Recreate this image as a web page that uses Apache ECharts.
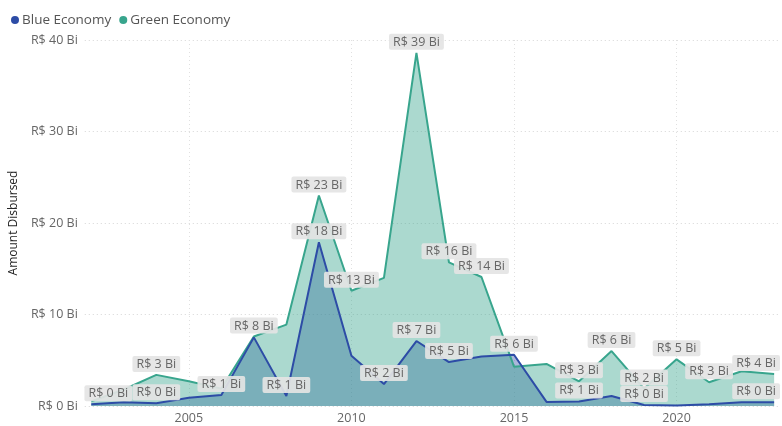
<!DOCTYPE html>
<html>
<head>
<meta charset="utf-8">
<title>Amount Disbursed</title>
<script src="https://cdn.jsdelivr.net/npm/echarts@6/dist/echarts.min.js"></script>
<style>
  html, body { margin: 0; padding: 0; background: #ffffff; }
  #chart { width: 782px; height: 426px; }
</style>
</head>
<body>
<div id="chart"></div>
<script>
// Yearly disbursements, in R$ billions
const years = [2002, 2003, 2004, 2005, 2006, 2007, 2008, 2009, 2010, 2011, 2012,
               2013, 2014, 2015, 2016, 2017, 2018, 2019, 2020, 2021, 2022, 2023];
const blueEconomy = [0.2, 0.4, 0.3, 0.9, 1.2, 7.5, 1.1, 17.9, 5.5, 2.4, 7.1,
                     4.8, 5.4, 5.6, 0.45, 0.5, 1.1, 0.1, 0.05, 0.2, 0.4, 0.4];
const greenEconomy = [0.5, 1.8, 3.4, 2.7, 1.9, 7.6, 8.9, 23.0, 12.6, 14.0, 38.6,
                      15.7, 14.1, 4.3, 4.6, 2.7, 6.0, 1.9, 5.1, 2.6, 3.8, 3.5];

// Years whose value label is shown for each series
const blueLabelYears = [2002, 2004, 2006, 2008, 2009, 2011, 2012, 2013, 2015, 2017, 2019, 2023];
const greenLabelYears = [2004, 2007, 2009, 2010, 2012, 2013, 2014, 2017, 2018, 2019, 2020, 2021, 2023];

const yTicks = [0, 10, 20, 30, 40];
const xTickYears = [2005, 2010, 2015, 2020];

const BLUE = '#2d4ca6';
const GREEN = '#38a58d';
const FONT = '"Open Sans", "Noto Sans", sans-serif';

const labelStyle = {
  show: true,
  position: 'top',
  distance: 3,
  formatter: p => 'R$ ' + Math.round(p.value[1]) + ' Bi',
  color: '#666666',
  fontFamily: FONT,
  fontSize: 12.5,
  backgroundColor: 'rgba(228,228,228,0.92)',
  borderRadius: 2,
  padding: [2, 4, 1, 4]
};

function buildData(values, labelYears) {
  return years.map((yr, i) => {
    const item = { value: [yr, values[i]] };
    if (labelYears) {
      item.label = labelYears.includes(yr) ? labelStyle : { show: false };
    }
    return item;
  });
}

// keep the first and last labels inside the plot area
function edgeLabelLayout(p) {
  let dx = 0;
  if (p.dataIndex === 0) dx = 17;
  if (p.dataIndex === years.length - 1) dx = -18;
  return { dx: dx, hideOverlap: false };
}

const chart = echarts.init(document.getElementById('chart'), null, { renderer: 'canvas' });

chart.setOption({
  animation: false,
  textStyle: { fontFamily: FONT },
  legend: {
    left: 6,
    top: 8,
    icon: 'circle',
    itemWidth: 8,
    itemHeight: 8,
    itemGap: 8,
    data: ['Blue Economy', 'Green Economy'],
    textStyle: { color: '#555555', fontSize: 13.5, fontFamily: FONT, padding: [0, 0, 0, -2] }
  },
  grid: { left: 82, right: 3, top: 40, bottom: 20 },
  xAxis: {
    type: 'value',
    min: 2001.8,
    max: 2023.15,
    axisLine: { show: false },
    axisTick: { show: false, customValues: xTickYears },
    axisLabel: {
      customValues: xTickYears,
      formatter: v => String(v),
      color: '#666666',
      fontSize: 12.5,
      fontFamily: FONT,
      margin: 6
    },
    splitLine: {
      show: true,
      lineStyle: { color: '#e0e0e0', type: [1, 3], width: 1 }
    }
  },
  yAxis: {
    type: 'value',
    min: yTicks[0],
    max: yTicks[yTicks.length - 1],
    interval: 10,
    name: 'Amount Disbursed',
    nameLocation: 'middle',
    nameGap: 56,
    nameTextStyle: { color: '#252525', fontSize: 12, fontFamily: FONT },
    axisLine: { show: false },
    axisTick: { show: false },
    axisLabel: {
      formatter: v => 'R$ ' + v + ' Bi',
      color: '#666666',
      fontSize: 12.5,
      fontFamily: FONT,
      margin: 7
    },
    splitLine: {
      show: true,
      lineStyle: { color: '#d6d6d6', type: [1, 3], width: 1 }
    }
  },
  series: [
    {
      // blue filled area underneath
      name: 'Blue Economy',
      type: 'line',
      data: buildData(blueEconomy, null),
      symbol: 'none',
      itemStyle: { color: BLUE },
      lineStyle: { width: 0, opacity: 0 },
      areaStyle: { color: BLUE, opacity: 0.4 },
      silent: true
    },
    {
      name: 'Green Economy',
      type: 'line',
      data: buildData(greenEconomy, greenLabelYears),
      symbol: 'circle',
      symbolSize: 0,
      showSymbol: true,
      itemStyle: { color: GREEN },
      lineStyle: { color: GREEN, width: 2 },
      areaStyle: { color: GREEN, opacity: 0.42 },
      labelLayout: edgeLabelLayout
    },
    {
      // blue line drawn above both areas
      name: 'Blue Economy',
      type: 'line',
      data: buildData(blueEconomy, blueLabelYears),
      symbol: 'circle',
      symbolSize: 0,
      showSymbol: true,
      itemStyle: { color: BLUE },
      lineStyle: { color: BLUE, width: 2 },
      labelLayout: edgeLabelLayout
    }
  ]
});
</script>
</body>
</html>
